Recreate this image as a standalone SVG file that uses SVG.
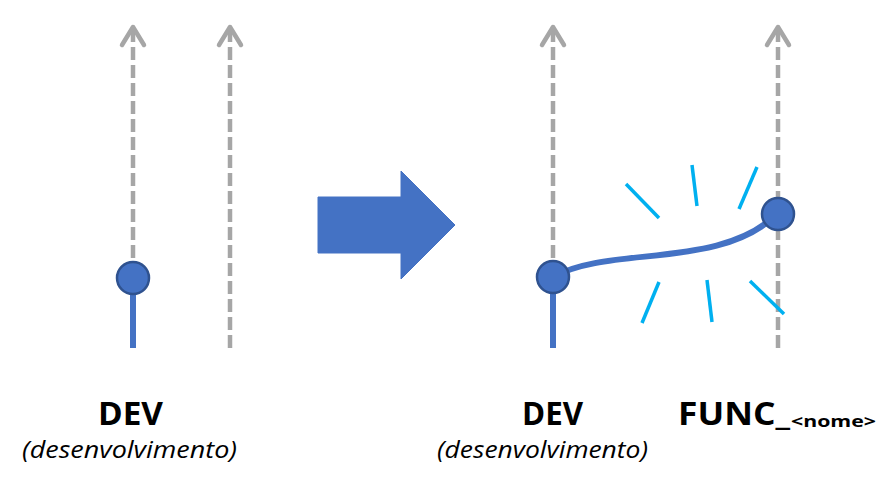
<svg xmlns="http://www.w3.org/2000/svg" width="892" height="479" viewBox="0 0 892 479">
<style>
.dash{stroke:#A6A6A6;stroke-width:4.5;stroke-dasharray:13 5;fill:none}
.chev{stroke:#A6A6A6;stroke-width:4.5;fill:none;stroke-linecap:round;stroke-linejoin:round}
.solid{stroke:#4472C4;stroke-width:6;fill:none}
.dot{fill:#4472C4;stroke:#2F528F;stroke-width:2.5}
.ray{stroke:#00B0F0;stroke-width:3.5;fill:none}
.t1{font-family:"Open Sans","Liberation Sans",sans-serif;font-weight:bold;font-size:32px;fill:#000}
.t2{font-family:"Open Sans","Liberation Sans",sans-serif;font-style:italic;font-size:23px;fill:#000}
.t3{font-family:"Open Sans","Liberation Sans",sans-serif;font-weight:bold;font-size:16px;fill:#000}
</style>
<g id="connectors">
<line class="dash" x1="133" y1="29" x2="133" y2="262"/>
<polyline class="chev" points="122,45 133,27 144,45"/>
<line class="dash" x1="230" y1="29" x2="230" y2="348"/>
<polyline class="chev" points="219,45 230,27 241,45"/>
<line class="solid" x1="133" y1="278" x2="133" y2="348"/>
<line class="dash" x1="553" y1="29" x2="553" y2="262"/>
<polyline class="chev" points="542,45 553,27 564,45"/>
<line class="dash" x1="778" y1="29" x2="778" y2="348"/>
<polyline class="chev" points="767,45 778,27 789,45"/>
<line class="solid" x1="553" y1="277" x2="553" y2="348"/>
<path class="solid" d="M553,277 C610,245 720,270 777,214"/>
</g>
<g id="big-arrow">
<polygon points="318,197 401,197 401,171 455,225 401,279 401,253 318,253" fill="#4472C4" stroke="#4472C4" stroke-width="1"/>
</g>
<g id="rays">
<line class="ray" x1="626" y1="184" x2="659" y2="218"/>
<line class="ray" x1="692" y1="165" x2="697" y2="206"/>
<line class="ray" x1="757" y1="167" x2="739" y2="209"/>
<line class="ray" x1="659" y1="282" x2="642" y2="323"/>
<line class="ray" x1="707" y1="280" x2="712" y2="322"/>
<line class="ray" x1="750" y1="281" x2="784" y2="314"/>
</g>
<g id="node-dev-left">
<circle class="dot" cx="133" cy="278" r="16"/>
<text class="t1" x="98" y="425" textLength="65" lengthAdjust="spacingAndGlyphs">DEV</text>
<text class="t2" x="22" y="458" textLength="215" lengthAdjust="spacingAndGlyphs">(desenvolvimento)</text>
</g>
<g id="node-dev-right">
<circle class="dot" cx="553" cy="277" r="16"/>
<text class="t1" x="522" y="425" textLength="61" lengthAdjust="spacingAndGlyphs">DEV</text>
<text class="t2" x="437" y="458" textLength="211" lengthAdjust="spacingAndGlyphs">(desenvolvimento)</text>
</g>
<g id="node-func">
<circle class="dot" cx="778" cy="214" r="16"/>
<text class="t1" x="678" y="425" textLength="112" lengthAdjust="spacingAndGlyphs">FUNC_</text>
<text class="t3" x="791" y="427" textLength="85" lengthAdjust="spacingAndGlyphs">&lt;nome&gt;</text>
</g>
</svg>
